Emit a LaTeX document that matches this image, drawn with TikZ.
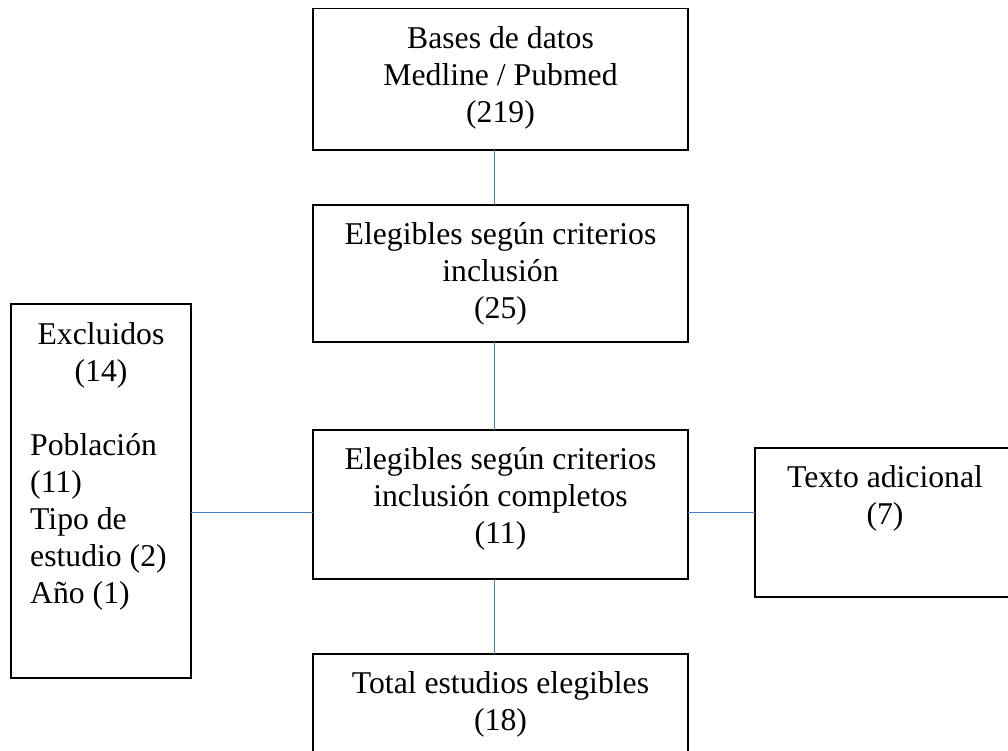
\documentclass[tikz,border=0pt]{standalone}
\usepackage{fontspec}
\setmainfont{Liberation Serif}
\definecolor{connblue}{RGB}{74,126,196}
\tikzset{
  box/.style={draw=black, line width=1.1pt, rectangle, inner sep=0pt, outer sep=0pt, fill=none},
  conn/.style={draw=connblue, line width=1pt},
  txt/.style={anchor=base, inner sep=0pt, font=\fontsize{31.7}{37}\selectfont},
  txtl/.style={txt, anchor=base west}
}
\begin{document}
\begin{tikzpicture}[x=1pt, y=-1pt]
\useasboundingbox (0,0) rectangle (1008,750);
\clip (0,0) rectangle (1008,750);
\fill[white] (0,0) rectangle (1008,750);

% boxes
\node[box, minimum width=375pt, minimum height=141.4pt] (top) at (500.5,79.3) {};
\node[box, minimum width=375pt, minimum height=137pt] (sel) at (500.5,273.5) {};
\node[box, minimum width=375pt, minimum height=149pt] (mid) at (500.5,504.5) {};
\node[box, minimum width=375pt, minimum height=116pt] (bot) at (500.5,712) {};
\node[box, minimum width=180pt, minimum height=374pt] (excl) at (101,491) {};
\node[box, minimum width=260pt, minimum height=149pt] (extra) at (885,522.5) {};

% helper coordinates for connector alignment
\coordinate (cx) at (494,0);
\coordinate (cy) at (0,512);

% connectors
\draw[conn] (top.south -| cx) -- (sel.north -| cx);
\draw[conn] (sel.south -| cx) -- (mid.north -| cx);
\draw[conn] (mid.south -| cx) -- (bot.north -| cx);
\draw[conn] (excl.east |- cy) -- (mid.west |- cy);
\draw[conn] (mid.east |- cy) -- (extra.west |- cy);

% texts
\node[txt] (t1) at (500.5,48) {Bases de datos};
\node[txt] (t2) at (500.5,85) {Medline / Pubmed};
\node[txt] (t3) at (500.5,122) {(219)};

\node[txt] (s1) at (500.5,244) {Elegibles según criterios};
\node[txt] (s2) at (500.5,281) {inclusión};
\node[txt] (s3) at (500.5,318) {(25)};

\node[txt] (m1) at (500.5,469) {Elegibles según criterios};
\node[txt] (m2) at (500.5,506) {inclusión completos};
\node[txt] (m3) at (500.5,543) {(11)};

\node[txt] (b1) at (500.5,693) {Total estudios elegibles};
\node[txt] (b2) at (500.5,730) {(18)};

\node[txt] (e1) at (101,344) {Excluidos};
\node[txt] (e2) at (101,381) {(14)};
\node[txtl] (e3) at (30,455) {Población};
\node[txtl] (e4) at (30,492) {(11)};
\node[txtl] (e5) at (30,529) {Tipo de};
\node[txtl] (e6) at (30,566) {estudio (2)};
\node[txtl] (e7) at (30,603) {Año (1)};

\node[txt] (x1) at (885,487) {Texto adicional};
\node[txt] (x2) at (885,524) {(7)};
\end{tikzpicture}
\end{document}
